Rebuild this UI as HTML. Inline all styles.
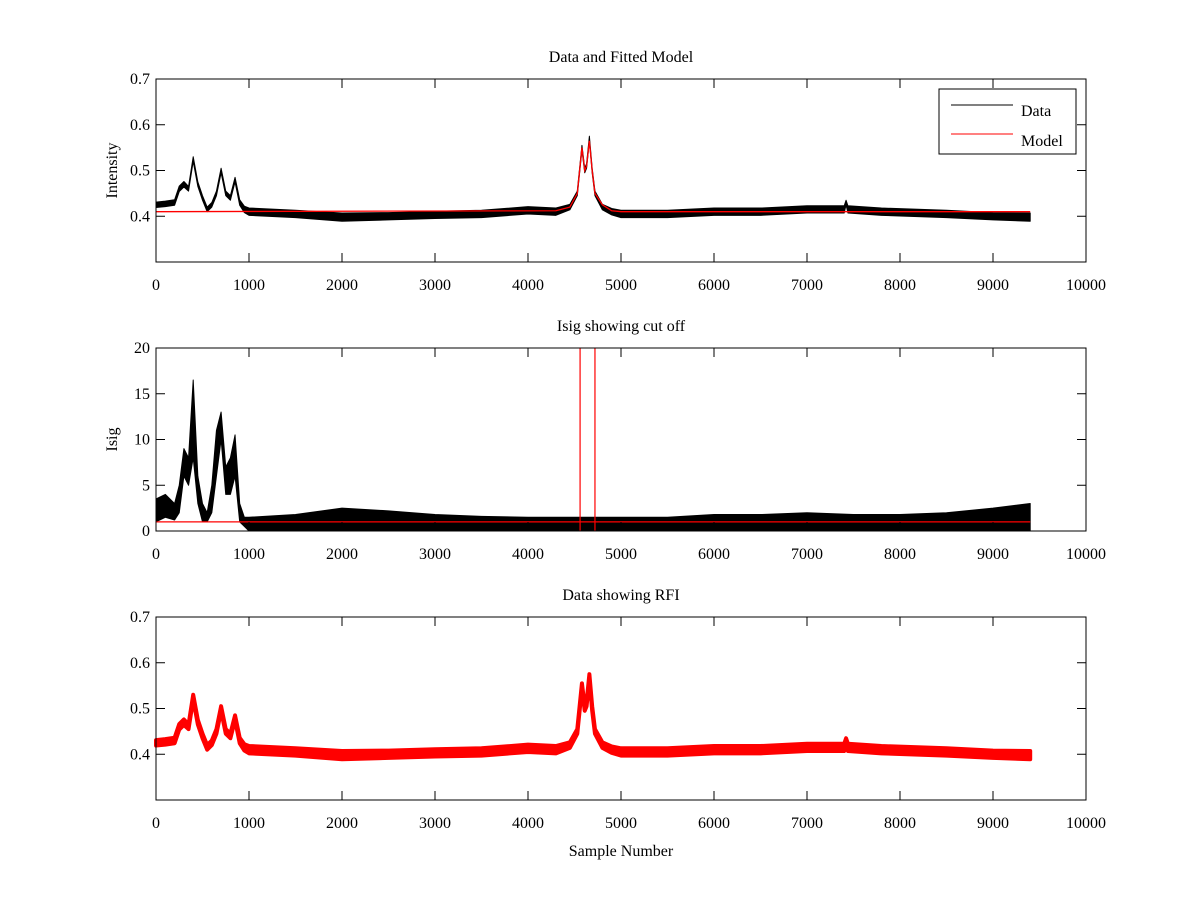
<!DOCTYPE html>
<html><head><meta charset="utf-8"><style>
body{margin:0;background:#fff}
svg{display:block}
text{font-family:"Liberation Serif",serif;font-size:16px;fill:#000}
</style></head><body>
<svg id="chart" width="1200" height="900" xmlns="http://www.w3.org/2000/svg"></svg>
<script>
// ---- data ----
const sampleX = [0,100,200,250,300,350,400,450,500,550,600,650,700,750,800,850,900,950,1000,1500,2000,2500,3000,3500,4000,4300,4450,4530,4580,4610,4630,4660,4690,4720,4800,4900,5000,5500,6000,6500,7000,7400,7420,7440,7800,8500,9000,9400];
const intensity = [0.425,0.427,0.43,0.46,0.47,0.46,0.525,0.47,0.44,0.415,0.425,0.45,0.5,0.45,0.44,0.48,0.43,0.415,0.41,0.405,0.398,0.4,0.403,0.405,0.413,0.41,0.42,0.45,0.55,0.5,0.51,0.57,0.5,0.45,0.42,0.41,0.405,0.405,0.41,0.41,0.415,0.415,0.43,0.415,0.41,0.405,0.4,0.398];
const intensityNoise = [0.006,0.006,0.006,0.006,0.006,0.005,0.005,0.005,0.005,0.005,0.005,0.005,0.005,0.005,0.005,0.005,0.006,0.007,0.008,0.008,0.009,0.008,0.008,0.008,0.008,0.008,0.006,0.005,0.005,0.005,0.005,0.005,0.005,0.005,0.006,0.007,0.008,0.008,0.008,0.008,0.008,0.008,0.005,0.008,0.008,0.008,0.008,0.009];
const modelX = [0,4300,4450,4530,4580,4610,4630,4660,4690,4720,4800,4900,5000,9400];
const modelY = [0.41,0.412,0.42,0.45,0.55,0.5,0.51,0.565,0.5,0.45,0.425,0.412,0.41,0.41];
const isigX = [0,100,200,250,300,350,400,450,500,550,600,650,700,750,800,850,900,950,1000,1500,2000,2500,3000,3500,4000,4500,5000,5500,6000,6500,7000,7500,8000,8500,9000,9400];
const isigLo = [1,1.5,1.2,2,6,5,8,3,1,1,2,6,10,4,4,6,1,0.5,0,0,0,0,0,0,0,0,0,0,0,0,0,0,0,0,0,0];
const isigHi = [3.5,4,3,5,9,8,16.5,6,3,2,5,11,13,7,8,10.5,3,1.5,1.5,1.8,2.5,2.2,1.8,1.6,1.5,1.5,1.5,1.5,1.8,1.8,2,1.8,1.8,2,2.5,3];
const threshold = 1;
const cutoffs = [4560, 4720];
const xTicks = [0,1000,2000,3000,4000,5000,6000,7000,8000,9000,10000];
const intTicks = [0.4,0.5,0.6,0.7];
const isigTicks = [0,5,10,15,20];

const NS="http://www.w3.org/2000/svg";
const svg=document.getElementById('chart');
function mk(tag,attrs,parent){const e=document.createElementNS(NS,tag);for(const k in attrs)e.setAttribute(k,attrs[k]);(parent||svg).appendChild(e);return e;}
const X0=156,X1=1086;
const sx=v=>X0+(v/10000)*(X1-X0);
function yScale(top,bot,min,max){return v=>bot-(v-min)/(max-min)*(bot-top);}

function axes(top,bot,sy,yticks,title,ylabel,prefix){
  const g=mk('g',{});
  
  
  const r=mk('rect',{x:X0,y:top,width:X1-X0,height:bot-top,fill:'none',stroke:'#000','stroke-width':1},g);
  
  
  xTicks.forEach(t=>{
    const x=sx(t);
    mk('line',{x1:x,y1:bot,x2:x,y2:bot-9,stroke:'#000'},g);
    mk('line',{x1:x,y1:top,x2:x,y2:top+9,stroke:'#000'},g);
    const tx=mk('text',{x:x,y:bot+28,'text-anchor':'middle'},g);tx.textContent=t;
    
    
  });
  yticks.forEach(t=>{
    const y=sy(t);
    mk('line',{x1:X0,y1:y,x2:X0+9,y2:y,stroke:'#000'},g);
    mk('line',{x1:X1,y1:y,x2:X1-9,y2:y,stroke:'#000'},g);
    const tx=mk('text',{x:X0-6,y:y+5,'text-anchor':'end'},g);tx.textContent=t;
    
    
  });
  const ti=mk('text',{x:621,y:top-17,'text-anchor':'middle'},g);ti.textContent=title;
  
  
  if(ylabel){const cy=(top+bot)/2;const yl=mk('text',{x:117,y:cy,'text-anchor':'middle',transform:`rotate(-90 117 ${cy})`},g);yl.textContent=ylabel;
    
    }
}
function band(xs,lo,hi,sy,color,name,sw){
  let pts=[];
  for(let i=0;i<xs.length;i++)pts.push(sx(xs[i])+','+sy(hi[i]));
  for(let i=xs.length-1;i>=0;i--)pts.push(sx(xs[i])+','+sy(lo[i]));
  const p=mk('polygon',{points:pts.join(' '),fill:color,stroke:color,'stroke-width':sw,'stroke-linejoin':'round'});
  
  
}
function line(xs,ys,sy,color,name,sw){
  const p=mk('polyline',{points:xs.map((x,i)=>sx(x)+','+sy(ys[i])).join(' '),fill:'none',stroke:color,'stroke-width':sw});
  
  
}

// Panel 1
const sy1=yScale(79,262,0.3,0.7);
const lo1=intensity.map((v,i)=>v-intensityNoise[i]), hi1=intensity.map((v,i)=>v+intensityNoise[i]);
band(sampleX,lo1,hi1,sy1,'#000','data-series',1);
line(modelX,modelY,sy1,'#f00','model-series',1.3);
axes(79,262,sy1,intTicks,'Data and Fitted Model','Intensity','top');
const lg=mk('g',{});


mk('rect',{x:939,y:89,width:137,height:65,fill:'#fff',stroke:'#000'},lg);
mk('line',{x1:951,y1:105,x2:1013,y2:105,stroke:'#000'},lg);
mk('line',{x1:951,y1:134,x2:1013,y2:134,stroke:'#f00'},lg);
const l1=mk('text',{x:1021,y:116},lg);l1.textContent='Data';


const l2=mk('text',{x:1021,y:146},lg);l2.textContent='Model';



// Panel 2
const sy2=yScale(348,531,0,20);
band(isigX,isigLo,isigHi,sy2,'#000','isig-series',1);
line([0,9400],[threshold,threshold],sy2,'#f00','threshold-line',1.2);
cutoffs.forEach(c=>{
  const l=mk('line',{x1:sx(c),y1:sy2(0),x2:sx(c),y2:sy2(20),stroke:'#f00','stroke-width':1.2});
  
  
});
axes(348,531,sy2,isigTicks,'Isig showing cut off','Isig','middle');

// Panel 3
const sy3=yScale(617,800,0.3,0.7);
band(sampleX,lo1,hi1,sy3,'#f00','rfi-series',4);
axes(617,800,sy3,intTicks,'Data showing RFI',null,'bottom');
const xl=mk('text',{x:621,y:856,'text-anchor':'middle'});xl.textContent='Sample Number';


</script>
</body></html>
